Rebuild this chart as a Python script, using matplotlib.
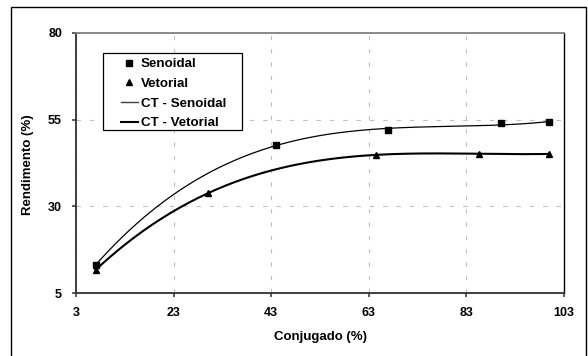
import numpy as np
import matplotlib
matplotlib.use("Agg")
import matplotlib.pyplot as plt
from matplotlib.lines import Line2D
from matplotlib.patches import Rectangle

plt.rcParams['font.family'] = ['Liberation Sans', 'DejaVu Sans']
plt.rcParams['font.weight'] = 'bold'

# data
conj_sen = [7, 44, 67, 90, 100]
rend_sen = [13.1, 47.7, 52.1, 53.9, 54.2]
conj_vet = [7, 30, 64.5, 85.6, 100]
rend_vet = [11.7, 33.8, 44.8, 45.2, 45.1]
x_ticks = [3, 23, 43, 63, 83, 103]
y_ticks = [5, 30, 55, 80]

W, H = 588, 356
fig = plt.figure(figsize=(W / 100, H / 100), dpi=100)

# outer chart frame
fig.patches.append(Rectangle((11 / W, -0.1), (586 - 11) / W, 1.1 - 7 / H,
                             transform=fig.transFigure, fill=False,
                             edgecolor='black', linewidth=1.0))

ax = fig.add_axes([76 / W, 1 - 293.3 / H, (564 - 76) / W, (293.3 - 32.7) / H])

# polynomial trend curves (order 3)
p_sen = np.polyfit(conj_sen, rend_sen, 3)
p_vet = np.polyfit(conj_vet, rend_vet, 3)
xs_sen = np.linspace(min(conj_sen), max(conj_sen), 200)
xs_vet = np.linspace(min(conj_vet), max(conj_vet), 200)

ax.plot(xs_sen, np.polyval(p_sen, xs_sen), color='black', lw=0.9, zorder=3)
ax.plot(xs_vet, np.polyval(p_vet, xs_vet), color='black', lw=1.5, zorder=3)
ax.plot(conj_sen, rend_sen, 's', color='black', ms=4.8, zorder=4)
ax.plot(conj_vet, rend_vet, '^', color='black', ms=5, zorder=4)

ax.set_xlim(3, 103)
ax.set_ylim(5, 80)
ax.set_xticks(x_ticks)
ax.set_yticks(y_ticks)
ax.grid(True, color='#c0c0c0', lw=0.8, linestyle=(0, (4, 8)))
ax.tick_params(direction='out', length=3, width=1.1, labelsize=9, pad=7,
               color='#303030')
for lab in ax.get_xticklabels() + ax.get_yticklabels():
    lab.set_fontweight('bold')

for side in ['left', 'bottom']:
    ax.spines[side].set_color('#303030')
    ax.spines[side].set_linewidth(1.3)
ax.spines['top'].set_color('#808080')
ax.spines['top'].set_linewidth(1.3)
ax.spines['right'].set_color('black')
ax.spines['right'].set_linewidth(1.0)

ax.set_xlabel('Conjugado (%)', fontsize=9.5, fontweight='bold')
ax.xaxis.set_label_coords(0.5, -0.1665)
ax.xaxis.label.set_va('center')
ax.set_ylabel('Rendimento (%)', fontsize=9.5, fontweight='bold')
ax.yaxis.set_label_coords((28 - 76) / 488, 0.494)
ax.yaxis.label.set_va('center')

# legend with a separately drawn box
handles = [
    Line2D([], [], marker='s', color='black', ls='none', ms=5),
    Line2D([], [], marker='^', color='black', ls='none', ms=5),
    Line2D([], [], color='#404040', lw=1.0),
    Line2D([], [], color='black', lw=1.5),
]
labels = ['Senoidal', 'Vetorial', 'CT - Senoidal', 'CT - Vetorial']
fig.legend(handles, labels, loc='upper left',
           bbox_to_anchor=(120.7 / W, 1 - 58 / H),
           frameon=False, borderpad=0, borderaxespad=0,
           handlelength=1.3, handletextpad=0.2, labelspacing=0.55,
           prop={'size': 9.6, 'weight': 'bold'})
fig.patches.append(Rectangle((103 / W, 1 - 130 / H), (242 - 103) / W, (130 - 53) / H,
                             transform=fig.transFigure, facecolor='white',
                             edgecolor='black', linewidth=0.9, zorder=5))

fig.savefig('out.png', dpi=100)
